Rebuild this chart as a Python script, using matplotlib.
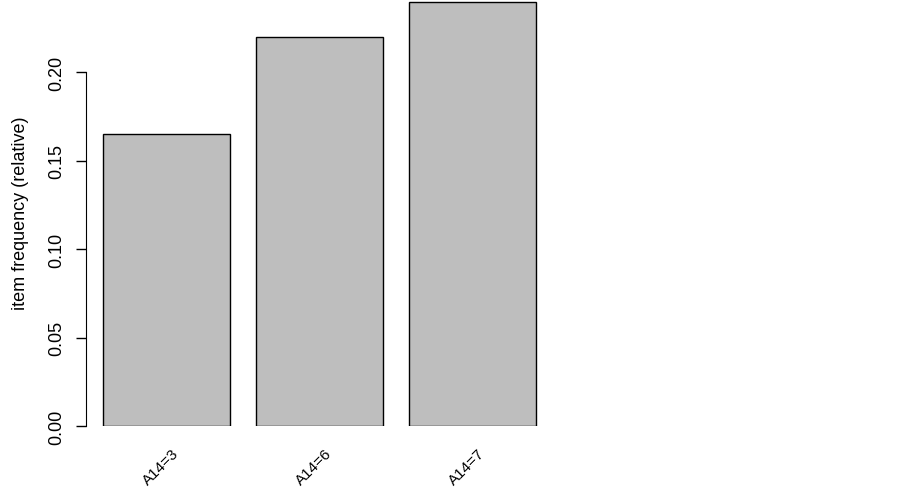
import matplotlib
matplotlib.use('Agg')
import matplotlib.pyplot as plt

# item frequencies
items = ['A14=3', 'A14=6', 'A14=7']
freq = [0.165, 0.220, 0.2395]
yticks = [0.00, 0.05, 0.10, 0.15, 0.20]

plt.rcParams['font.family'] = ['Liberation Sans', 'DejaVu Sans']

W, H = 903, 489
px = 127.35  # pixels per bar unit
fig = plt.figure(figsize=(W / 100, H / 100), dpi=100)
# axes placed in pixel terms: left axis line at x=86, right edge at x=546, bottom at y=427, top at y=0
ax = fig.add_axes([86 / W, (H - 427) / H, (546 - 86) / W, 427 / H])

width = 1.0
space = 0.2
lefts = [space + i * (width + space) for i in range(len(items))]
centers = [l + width / 2 for l in lefts]
ax.bar(lefts, freq, width=width, align='edge', color='#bebebe', edgecolor='black', linewidth=1)

ax.set_xlim(0.2 - 17 / px, lefts[-1] + width + 10 / px)
ax.set_ylim(0, 427 / 1770)

for s in ['top', 'right', 'bottom']:
    ax.spines[s].set_visible(False)
ax.spines['left'].set_bounds(0, 0.20)

ax.set_yticks(yticks)
ax.set_yticklabels(['%.2f' % v for v in yticks], rotation=90, va='center', fontsize=13)
ax.tick_params(axis='y', direction='out', length=7, width=1, pad=8)
ax.set_xticks([])

ax.set_ylabel('item frequency (relative)', fontsize=13, labelpad=14)

for c, lab in zip(centers, items):
    ax.text(c + 0.04, -0.011, lab, rotation=45, ha='right', va='top', fontsize=11,
            rotation_mode='anchor', clip_on=False)

fig.savefig('out.png', dpi=100)
